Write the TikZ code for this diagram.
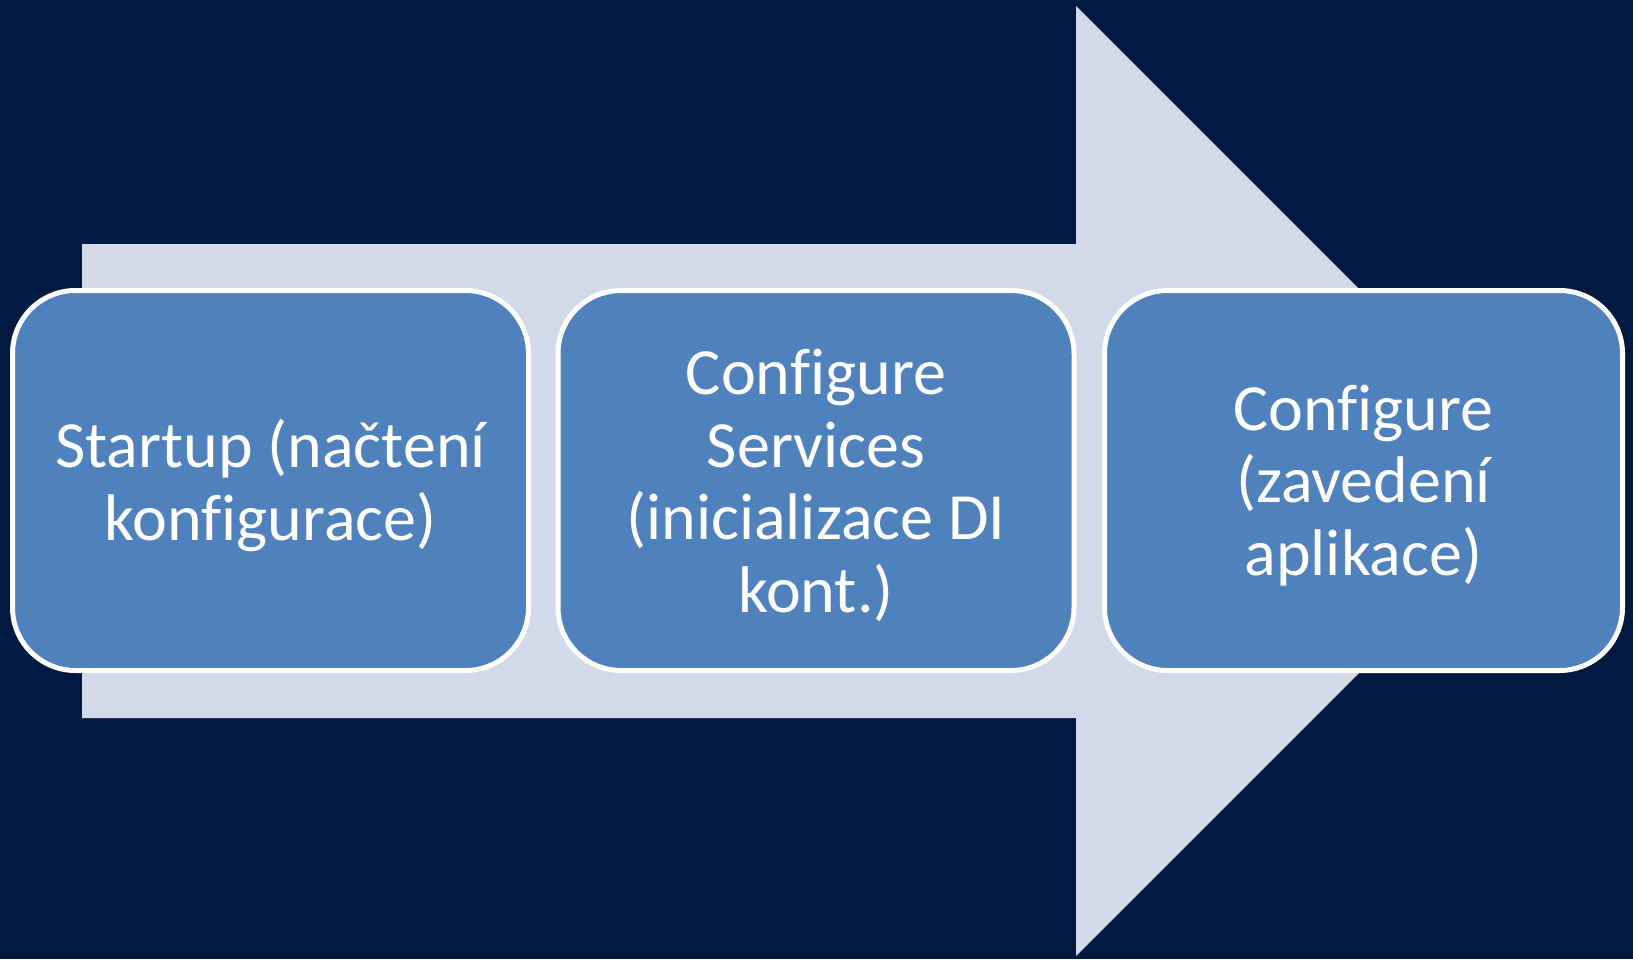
\documentclass[tikz,border=0pt]{standalone}
\usepackage{fontspec}
\setmainfont{Carlito}[Ligatures=NoCommon]
\definecolor{bg}{HTML}{001940}
\definecolor{arrowc}{HTML}{D2D9E8}
\definecolor{boxc}{HTML}{4F81BD}
\begin{document}
\begin{tikzpicture}[x=1pt,y=-1pt,
  stepbox/.style={draw=white, line width=5pt, fill=boxc, rounded corners=63pt,
    minimum width=516pt, minimum height=380pt, inner sep=0pt},
  steptext/.style={text=white, font=\fontsize{66}{72.7}\selectfont,
    align=center, inner sep=0pt}]
\fill[bg] (0,0) rectangle (1633,959);
\useasboundingbox (0,0) rectangle (1633,959);
\fill[arrowc] (82,244) -- (1076,244) -- (1076,6) -- (1551,481) -- (1076,956) -- (1076,718) -- (82,718) -- cycle;
\node[stepbox] (s1) at (270.5,480.5) {};
\node[stepbox] (s2) at (816,480.5) {};
\node[stepbox, minimum width=518pt] (s3) at (1363.5,480.5) {};
\node[steptext] (t1) at ([yshift=-5pt]s1.center) {Startup (načtení\\konfigurace)};
\node[steptext] (t2) at ([yshift=-5pt]s2.center) {Configure\\Services\\(inicializace DI\\kont.)};
\node[steptext] (t3) at ([yshift=-5pt]s3.center) {Configure\\(zavedení\\aplikace)};
\end{tikzpicture}
\end{document}
